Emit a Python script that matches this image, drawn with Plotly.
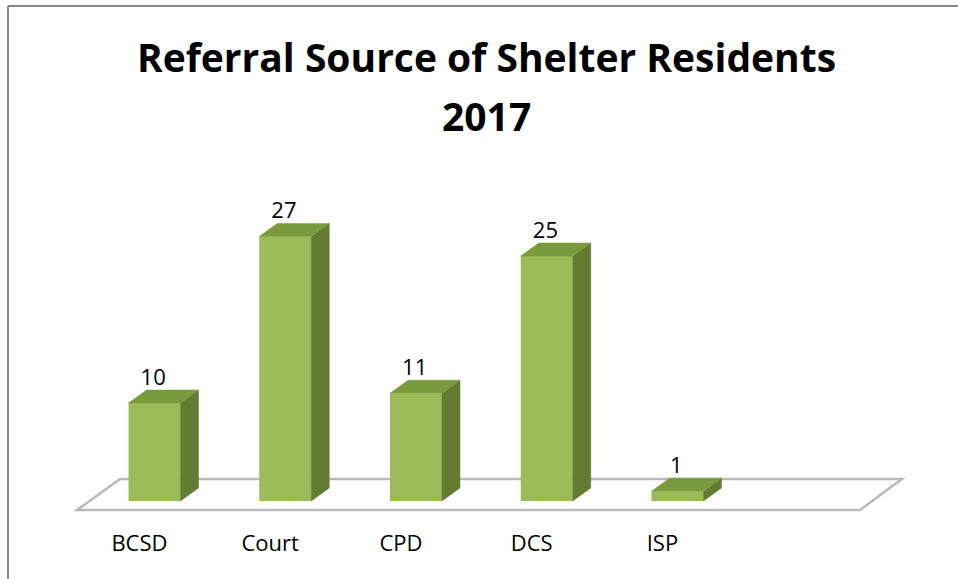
import plotly.graph_objects as go

categories = ["BCSD", "Court", "CPD", "DCS", "ISP"]
values = [10, 27, 11, 25, 1]
title_lines = ["Referral Source of Shelter Residents", "2017"]

W, H = 958, 579
px0, pxs = 154.5, 130.75   # pixel x of category 0 centre, px per category
py0, pys = 501.0, 9.8      # pixel y of value 0, px per unit

xr = [(0 - px0) / pxs, (W - px0) / pxs]
yr = [(py0 - H) / pys, (py0 - 0) / pys]

bw = 52 / pxs
ddx = 18 / pxs
ddy = 13 / pys

FRONT = "#9BBB59"
SIDE = "#637C32"
TOP = "#7A9A3E"
FONT = "Open Sans"

fig = go.Figure()

# floor (decorative plane, drawn below traces)
fy0 = (py0 - 510) / pys
fy1 = (py0 - 479) / pys
fx0, fx1 = (77 - px0) / pxs, (860 - px0) / pxs
bx0, bx1 = (120 - px0) / pxs, (902 - px0) / pxs
floor_path = f"M {fx0},{fy0} L {fx1},{fy0} L {bx1},{fy1} L {bx0},{fy1} Z"

xs = list(range(len(categories)))

for i, v in zip(xs, values):
    r = i + bw / 2
    l = i - bw / 2
    fig.add_trace(go.Scatter(
        x=[r, r + ddx, r + ddx, r, r],
        y=[0, ddy, v + ddy, v, 0],
        mode="lines", fill="toself", fillcolor=SIDE,
        line=dict(color=SIDE, width=0.5), hoverinfo="skip", showlegend=False))
    fig.add_trace(go.Scatter(
        x=[l, r, r + ddx, l + ddx, l],
        y=[v, v, v + ddy, v + ddy, v],
        mode="lines", fill="toself", fillcolor=TOP,
        line=dict(color=TOP, width=0.5), hoverinfo="skip", showlegend=False))

fig.add_trace(go.Bar(x=xs, y=values, width=bw, marker=dict(color=FRONT, line=dict(width=0)),
                     showlegend=False, hoverinfo="x+y"))

fig.add_trace(go.Scatter(
    x=[i - 0.01 for i in xs], y=[v + ddy for v in values], mode="text",
    text=[str(v) for v in values], textposition="top center",
    textfont=dict(family=FONT, size=22, color="black"),
    hoverinfo="skip", showlegend=False))

fig.add_trace(go.Scatter(
    x=[i - 0.115 for i in xs], y=[(py0 - 545) / pys] * len(xs), mode="text",
    text=categories, textposition="middle center",
    textfont=dict(family=FONT, size=22, color="black"),
    hoverinfo="skip", showlegend=False))

fig.update_layout(
    width=W, height=H,
    margin=dict(l=0, r=0, t=0, b=0),
    paper_bgcolor="white", plot_bgcolor="white",
    xaxis=dict(range=xr, visible=False, fixedrange=True),
    yaxis=dict(range=yr, visible=False, fixedrange=True),
    barmode="overlay",
    title=dict(text="<b>" + title_lines[0] + "</b>",
               x=486.5 / W, xanchor="center", y=1 - 58 / H, yanchor="middle",
               font=dict(family=FONT, size=39, color="black")),
    annotations=[
        dict(text="<b>" + title_lines[1] + "</b>", xref="paper", yref="paper",
             x=486.5 / W, y=1 - 116 / H, xanchor="center", yanchor="middle", showarrow=False,
             font=dict(family=FONT, size=39, color="black")),
    ],
    shapes=[
        dict(type="path", path=floor_path, xref="x", yref="y", layer="below",
             fillcolor="white", line=dict(color="#BABABA", width=2.5)),
        dict(type="line", xref="paper", yref="paper", x0=8 / W, x1=1, y0=1 - 6 / H, y1=1 - 6 / H,
             line=dict(color="#878787", width=2)),
        dict(type="line", xref="paper", yref="paper", x0=8 / W, x1=8 / W, y0=0, y1=1 - 6 / H,
             line=dict(color="#878787", width=2)),
    ],
)

fig.write_html("out.html", config={"displayModeBar": False},
               post_script="document.body.style.margin='0';document.body.style.overflow='hidden';")
